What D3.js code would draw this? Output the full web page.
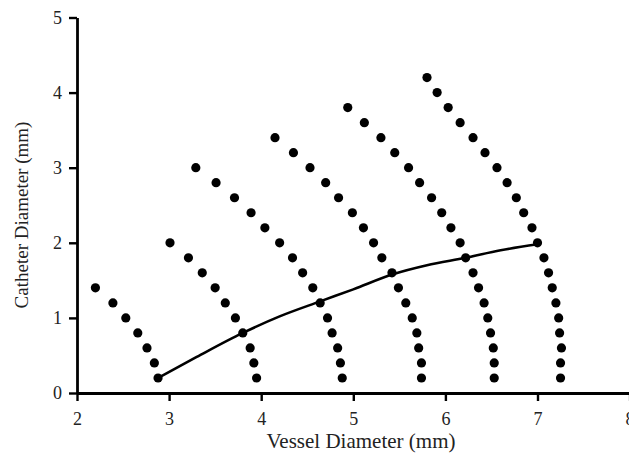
<!DOCTYPE html>
<html>
<head>
<meta charset="utf-8">
<script src="https://cdn.jsdelivr.net/npm/d3@7"></script>
<style>
    body { margin: 0; background: #fff; }
    svg { display: block; }
    .axis text { font-family: "Liberation Serif", "Times New Roman", serif; font-size: 18px; fill: #222; }
    .title { font-family: "Liberation Serif", "Times New Roman", serif; fill: #222; }
</style>
</head>
<body>
<div id="chart"></div>
<script>
// catheter diameter levels (y) shared by every arc, top to bottom
const catheterLevels = [4.2, 4.0, 3.8, 3.6, 3.4, 3.2, 3.0, 2.8, 2.6, 2.4, 2.2, 2.0, 1.8, 1.6, 1.4, 1.2, 1.0, 0.8, 0.6, 0.4, 0.2];

// vessel diameter (x) of each dot, listed from the top of the arc down to 0.2 mm
const arc1 = [2.20, 2.39, 2.53, 2.66, 2.76, 2.84, 2.88];
const arc2 = [3.01, 3.21, 3.36, 3.50, 3.61, 3.72, 3.80, 3.88, 3.92, 3.95];
const arc3 = [3.29, 3.51, 3.71, 3.89, 4.04, 4.20, 4.34, 4.45, 4.56, 4.64, 4.72, 4.77, 4.83, 4.86, 4.88];
const arc4 = [4.15, 4.35, 4.53, 4.70, 4.84, 4.99, 5.11, 5.22, 5.31, 5.42, 5.49, 5.57, 5.64, 5.69, 5.71, 5.74, 5.74];
const arc5 = [4.94, 5.12, 5.30, 5.45, 5.60, 5.72, 5.85, 5.96, 6.06, 6.16, 6.22, 6.30, 6.36, 6.42, 6.46, 6.49, 6.52, 6.53, 6.53];
const arc6 = [5.80, 5.91, 6.03, 6.16, 6.30, 6.43, 6.56, 6.67, 6.77, 6.85, 6.94, 7.00, 7.07, 7.12, 7.16, 7.20, 7.23, 7.24, 7.26, 7.25, 7.25];

// solid curve
const lineX = [2.88, 3.30, 3.80, 4.20, 4.64, 5.00, 5.43, 5.80, 6.22, 6.60, 7.00];
const lineY = [0.20, 0.48, 0.80, 1.02, 1.22, 1.38, 1.58, 1.70, 1.80, 1.90, 1.98];

const xTicks = [2, 3, 4, 5, 6, 7, 8];
const yTicks = [0, 1, 2, 3, 4, 5];

const width = 629, height = 460;

const svg = d3.select("#chart")
    .append("svg")
    .attr("width", width)
    .attr("height", height);

const x = d3.scaleLinear().domain([2, 8]).range([77, 629.6]);
const y = d3.scaleLinear().domain([0, 5]).range([393, 17.5]);

// dots: pair each x list with the bottom part of the catheter levels
let dots = [];
[arc1, arc2, arc3, arc4, arc5, arc6].forEach(arc => {
    let levels = catheterLevels.slice(catheterLevels.length - arc.length);
    arc.forEach((v, i) => dots.push({ x: v, y: levels[i] }));
});

svg.append("g")
    .selectAll("circle")
    .data(dots)
    .enter()
    .append("circle")
    .attr("cx", d => x(d.x))
    .attr("cy", d => y(d.y))
    .attr("r", 4.6)
    .style("fill", "#000");

const line = d3.line()
    .x(d => x(d[0]))
    .y(d => y(d[1]))
    .curve(d3.curveMonotoneX);

svg.append("path")
    .datum(lineX.map((v, i) => [v, lineY[i]]))
    .attr("d", line)
    .attr("fill", "none")
    .attr("stroke", "#000")
    .attr("stroke-width", 2.6);

// axes
svg.append("g")
    .attr("class", "axis")
    .attr("transform", `translate(0,${y(0)})`)
    .call(d3.axisBottom(x).tickValues(xTicks).tickFormat(d3.format("d")).tickSize(8).tickSizeOuter(0).tickPadding(11));

svg.append("g")
    .attr("class", "axis")
    .attr("transform", `translate(${x(2)},0)`)
    .call(d3.axisLeft(y).tickValues(yTicks).tickFormat(d3.format("d")).tickSize(8).tickSizeOuter(0).tickPadding(7));

svg.selectAll(".axis .domain").attr("stroke", "#000").attr("stroke-width", 2.8);
svg.selectAll(".axis .tick line").attr("stroke", "#000").attr("stroke-width", 2.4);

svg.append("text")
    .attr("class", "title")
    .attr("x", 361)
    .attr("y", 448)
    .attr("text-anchor", "middle")
    .style("font-size", "21px")
    .text("Vessel Diameter (mm)");

svg.append("text")
    .attr("class", "title")
    .attr("transform", `translate(28,215) rotate(-90)`)
    .attr("text-anchor", "middle")
    .style("font-size", "19px")
    .text("Catheter Diameter (mm)");
</script>
</body>
</html>
